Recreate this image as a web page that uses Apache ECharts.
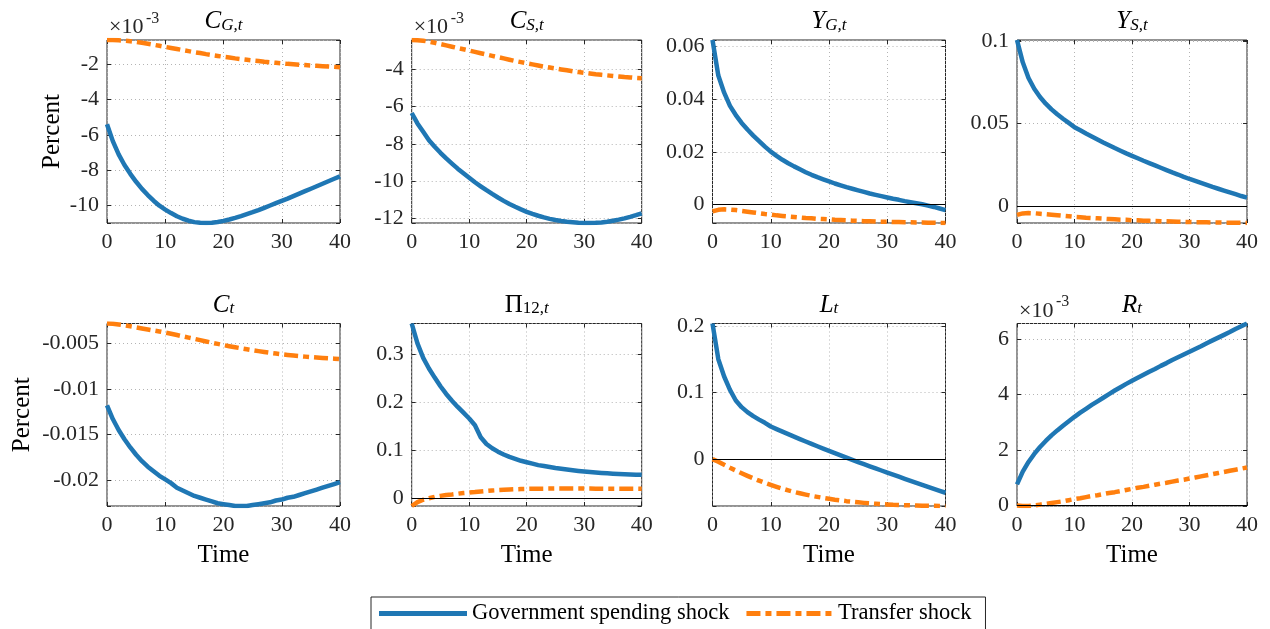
<!DOCTYPE html>
<html>
<head>
<meta charset="utf-8">
<script src="https://cdn.jsdelivr.net/npm/echarts@6/dist/echarts.min.js"></script>
<style>
  html, body { margin: 0; padding: 0; background: #ffffff; }
  #chart { width: 1270px; height: 629px; }
</style>
</head>
<body>
<div id="chart"></div>
<script>
// Impulse responses over 40 periods: government spending shock vs transfer shock.
const time = [0,1,2,3,4,5,6,7,8,9,10,11,12,13,14,15,16,17,18,19,20,21,22,23,24,25,26,27,28,29,30,31,32,33,34,35,36,37,38,39,40];
const timeTicks = [0, 10, 20, 30, 40];

// C_{G,t}, in units of 10^-3
const cgGov = [-5.40,-6.35,-7.10,-7.70,-8.20,-8.65,-9.05,-9.40,-9.72,-10.00,-10.22,-10.42,-10.60,-10.74,-10.85,-10.93,-10.97,-10.98,-10.96,-10.92,-10.86,-10.78,-10.69,-10.59,-10.48,-10.37,-10.25,-10.12,-9.99,-9.86,-9.73,-9.60,-9.46,-9.32,-9.18,-9.04,-8.90,-8.76,-8.62,-8.48,-8.34];
const cgTrans = [-0.63,-0.63,-0.65,-0.67,-0.70,-0.74,-0.79,-0.84,-0.90,-0.96,-1.02,-1.08,-1.14,-1.20,-1.26,-1.32,-1.37,-1.43,-1.48,-1.53,-1.58,-1.62,-1.67,-1.71,-1.75,-1.79,-1.82,-1.86,-1.89,-1.92,-1.95,-1.98,-2.00,-2.03,-2.05,-2.07,-2.09,-2.11,-2.13,-2.15,-2.17];
const cgTicks = [-10, -8, -6, -4, -2];

// C_{S,t}, in units of 10^-3
const csGov = [-6.34,-6.90,-7.35,-7.80,-8.15,-8.48,-8.78,-9.06,-9.33,-9.58,-9.82,-10.06,-10.28,-10.49,-10.69,-10.88,-11.06,-11.23,-11.38,-11.52,-11.65,-11.76,-11.86,-11.95,-12.03,-12.09,-12.14,-12.18,-12.21,-12.24,-12.25,-12.25,-12.24,-12.22,-12.18,-12.13,-12.07,-12.00,-11.92,-11.83,-11.73];
const csTrans = [-2.42,-2.43,-2.46,-2.51,-2.57,-2.64,-2.71,-2.78,-2.85,-2.92,-2.99,-3.06,-3.13,-3.20,-3.27,-3.34,-3.41,-3.48,-3.55,-3.61,-3.67,-3.73,-3.79,-3.85,-3.90,-3.95,-4.00,-4.05,-4.10,-4.14,-4.18,-4.22,-4.26,-4.29,-4.32,-4.35,-4.38,-4.41,-4.43,-4.46,-4.48];
const csTicks = [-12, -10, -8, -6, -4];

// Y_{G,t}
const ygGov = [0.0625,0.0490,0.0425,0.0375,0.0340,0.0310,0.0285,0.0262,0.0241,0.0220,0.0201,0.0185,0.0170,0.0157,0.0145,0.0134,0.0123,0.0113,0.0104,0.0096,0.0088,0.0080,0.0073,0.0066,0.0060,0.0054,0.0048,0.0042,0.0037,0.0032,0.0027,0.0022,0.0018,0.0013,0.0009,0.0005,0.0001,-0.0004,-0.0009,-0.0015,-0.0021];
const ygTrans = [-0.0026,-0.0020,-0.0018,-0.0019,-0.0021,-0.0024,-0.0027,-0.0030,-0.0033,-0.0036,-0.0038,-0.0041,-0.0043,-0.0045,-0.0047,-0.0049,-0.0051,-0.0052,-0.0054,-0.0055,-0.0056,-0.0058,-0.0059,-0.0060,-0.0061,-0.0062,-0.0063,-0.0063,-0.0064,-0.0065,-0.0065,-0.0066,-0.0066,-0.0067,-0.0067,-0.0068,-0.0068,-0.0069,-0.0069,-0.0070,-0.0070];
const ygTicks = [0, 0.02, 0.04, 0.06];

// Y_{S,t}
const ysGov = [0.1005,0.0870,0.0775,0.0710,0.0660,0.0620,0.0586,0.0556,0.0529,0.0504,0.0478,0.0459,0.0440,0.0422,0.0404,0.0386,0.0369,0.0352,0.0336,0.0320,0.0305,0.0290,0.0275,0.0261,0.0247,0.0233,0.0219,0.0205,0.0192,0.0178,0.0165,0.0153,0.0141,0.0129,0.0117,0.0106,0.0095,0.0084,0.0073,0.0062,0.0052];
const ysTrans = [-0.0052,-0.0043,-0.0041,-0.0042,-0.0045,-0.0048,-0.0051,-0.0054,-0.0057,-0.0060,-0.0064,-0.0066,-0.0069,-0.0071,-0.0073,-0.0075,-0.0077,-0.0079,-0.0081,-0.0082,-0.0084,-0.0085,-0.0087,-0.0088,-0.0089,-0.0090,-0.0091,-0.0092,-0.0093,-0.0094,-0.0095,-0.0096,-0.0096,-0.0097,-0.0098,-0.0098,-0.0099,-0.0099,-0.0100,-0.0100,-0.0101];
const ysTicks = [0, 0.05, 0.1];

// C_t
const cGov = [-0.0118,-0.0133,-0.0145,-0.0155,-0.0164,-0.0172,-0.0179,-0.0185,-0.0190,-0.0195,-0.0199,-0.0203,-0.0208,-0.0211,-0.0214,-0.0217,-0.0219,-0.0221,-0.0223,-0.0225,-0.0226,-0.0227,-0.0228,-0.0228,-0.0228,-0.0227,-0.0226,-0.0225,-0.0224,-0.0222,-0.0221,-0.0219,-0.0218,-0.0216,-0.0214,-0.0212,-0.0210,-0.0208,-0.0206,-0.0204,-0.0202];
const cTrans = [-0.00286,-0.00288,-0.00296,-0.00306,-0.00317,-0.00328,-0.00340,-0.00351,-0.00362,-0.00373,-0.00385,-0.00398,-0.00412,-0.00426,-0.00440,-0.00454,-0.00468,-0.00482,-0.00496,-0.00509,-0.00522,-0.00534,-0.00546,-0.00557,-0.00568,-0.00578,-0.00588,-0.00597,-0.00606,-0.00614,-0.00622,-0.00629,-0.00636,-0.00642,-0.00648,-0.00653,-0.00658,-0.00662,-0.00666,-0.00670,-0.00674];
const cTicks = [-0.02, -0.015, -0.01, -0.005];

// Pi_{12,t}
const piGov = [0.3635,0.322,0.292,0.270,0.251,0.233,0.217,0.203,0.190,0.178,0.166,0.152,0.127,0.113,0.104,0.097,0.091,0.086,0.082,0.078,0.075,0.072,0.069,0.067,0.065,0.063,0.0613,0.0597,0.0582,0.0568,0.0556,0.0545,0.0535,0.0527,0.0520,0.0513,0.0507,0.0502,0.0497,0.0492,0.0488];
const piTrans = [-0.016,-0.008,-0.003,0.000,0.003,0.005,0.007,0.008,0.0095,0.011,0.012,0.013,0.0143,0.0153,0.0162,0.0170,0.0177,0.0183,0.0188,0.0192,0.0195,0.0198,0.0200,0.0201,0.0202,0.0203,0.0203,0.0203,0.0203,0.0203,0.0202,0.0202,0.0201,0.0201,0.0200,0.0200,0.0199,0.0199,0.0198,0.0198,0.0197];
const piTicks = [0, 0.1, 0.2, 0.3];

// L_t
const lGov = [0.2036,0.150,0.124,0.104,0.088,0.078,0.0705,0.0645,0.0593,0.0545,0.0490,0.0451,0.0413,0.0375,0.0338,0.0301,0.0265,0.0229,0.0193,0.0158,0.0123,0.0089,0.0055,0.0021,-0.0012,-0.0044,-0.0076,-0.0108,-0.0140,-0.0171,-0.0202,-0.0233,-0.0264,-0.0295,-0.0326,-0.0356,-0.0386,-0.0416,-0.0446,-0.0476,-0.0505];
const lTrans = [0,-0.0040,-0.0085,-0.0130,-0.0172,-0.0213,-0.0252,-0.0289,-0.0324,-0.0357,-0.0388,-0.0417,-0.0444,-0.0469,-0.0492,-0.0513,-0.0533,-0.0551,-0.0567,-0.0582,-0.0596,-0.0609,-0.0620,-0.0631,-0.0640,-0.0649,-0.0657,-0.0664,-0.0670,-0.0676,-0.0680,-0.0685,-0.0688,-0.0692,-0.0694,-0.0697,-0.0699,-0.0700,-0.0702,-0.0703,-0.0704];
const lTicks = [0, 0.1, 0.2];

// R_t, in units of 10^-3
const rGov = [0.76,1.22,1.57,1.86,2.11,2.33,2.53,2.71,2.88,3.04,3.20,3.35,3.49,3.63,3.76,3.89,4.02,4.15,4.27,4.39,4.50,4.61,4.72,4.83,4.93,5.04,5.14,5.25,5.35,5.45,5.55,5.65,5.75,5.86,5.96,6.06,6.16,6.26,6.37,6.47,6.57];
const rTrans = [0.00,-0.02,-0.02,0.00,0.03,0.06,0.09,0.12,0.15,0.19,0.23,0.26,0.30,0.34,0.37,0.41,0.45,0.48,0.52,0.56,0.60,0.64,0.67,0.71,0.75,0.79,0.82,0.86,0.90,0.93,0.97,1.01,1.05,1.09,1.13,1.17,1.21,1.25,1.29,1.33,1.37];
const rTicks = [0, 2, 4, 6];

const seriesNames = ['Government spending shock', 'Transfer shock'];

const FONT = 'Liberation Serif';
const INK = '#262626';
const BLUE = '#1f77b4';
const ORANGE = '#ff7f0e';
const DASH_DOT = [14, 5, 6, 5];

// Panel rectangles in pixels: [left, top, width, height]
const boxes = [
  [107, 40, 233, 183], [411.7, 40, 230, 183], [712.5, 40, 233, 183], [1017, 40, 230, 183],
  [107, 323.5, 233, 182.5], [411.7, 323.5, 230, 182.5], [712.5, 323.5, 233, 182.5], [1017, 323.5, 230, 182.5]
];

const panels = [
  { title: '{i|C}{s|G,t}', gov: cgGov, trans: cgTrans, ticks: cgTicks, split: 5, exp: true },
  { title: '{i|C}{s|S,t}', gov: csGov, trans: csTrans, ticks: csTicks, split: 5, exp: true },
  { title: '{i|Y}{s|G,t}', gov: ygGov, trans: ygTrans, ticks: ygTicks, split: 3 },
  { title: '{i|Y}{s|S,t}', gov: ysGov, trans: ysTrans, ticks: ysTicks, split: 2 },
  { title: '{i|C}{s|t}', gov: cGov, trans: cTrans, ticks: cTicks, split: 4 },
  { title: '{u|\u03A0}{su|12,}{s|t}', gov: piGov, trans: piTrans, ticks: piTicks, split: 4 },
  { title: '{i|L}{s|t}', gov: lGov, trans: lTrans, ticks: lTicks, split: 2 },
  { title: '{i|R}{s|t}', gov: rGov, trans: rTrans, ticks: rTicks, split: 3, exp: true }
];

const titleRich = {
  i:  { fontFamily: FONT, fontStyle: 'italic', fontSize: 25, color: '#000', lineHeight: 28, verticalAlign: 'bottom' },
  u:  { fontFamily: FONT, fontSize: 25, color: '#000', lineHeight: 28, verticalAlign: 'bottom' },
  s:  { fontFamily: FONT, fontStyle: 'italic', fontSize: 17, color: '#000', lineHeight: 17, verticalAlign: 'bottom' },
  su: { fontFamily: FONT, fontSize: 17, color: '#000', lineHeight: 17, verticalAlign: 'bottom' }
};

function tickFormatter(ticks) {
  return function (v) {
    const hit = ticks.find(t => Math.abs(t - v) < 1e-7);
    return hit === undefined ? '' : String(hit);
  };
}

// Legend sample for the dash-dot style, built from the same dash pattern
function dashIconPath(pattern, total, h) {
  let d = '', x = 0, k = 0;
  while (x < total) {
    const len = pattern[k % pattern.length];
    if (k % 2 === 0) {
      const x2 = Math.min(x + len, total);
      d += 'M' + x + ' 0H' + x2 + 'V' + h + 'H' + x + 'Z';
    }
    x += len; k++;
  }
  return 'path://' + d;
}

const tickStyle = { inside: true, length: 4, lineStyle: { color: INK, width: 1 } };
const gridLine = { show: true, lineStyle: { color: '#b4b4b4', width: 1, type: [1, 3] } };
const labelStyle = { fontFamily: FONT, fontSize: 22, color: INK, margin: 8 };

const grid = [], xAxis = [], yAxis = [], series = [], title = [];

panels.forEach((p, i) => {
  const [l, t, w, h] = boxes[i];
  const row = i < 4 ? 0 : 1;
  const col = i % 4;
  const yMin = Math.min(...p.gov, ...p.trans);
  const yMax = Math.max(...p.gov, ...p.trans);

  grid.push({ left: l, top: t, width: w, height: h, show: true, borderColor: INK, borderWidth: 1,
              backgroundColor: 'transparent', containLabel: false });

  // bottom axis (data axis)
  xAxis.push({
    gridIndex: i, type: 'value', position: 'bottom', min: 0, max: 40, interval: 10,
    axisLine: { show: false, onZero: false },
    axisTick: tickStyle,
    axisLabel: Object.assign({ formatter: tickFormatter(timeTicks) }, labelStyle),
    splitLine: gridLine,
    name: row === 1 ? 'Time' : '', nameLocation: 'middle', nameGap: 37,
    nameTextStyle: { fontFamily: FONT, fontSize: 25, color: '#000' }
  });
  // top axis: mirrored ticks and panel title
  xAxis.push({
    gridIndex: i, type: 'value', position: 'top', min: 0, max: 40, interval: 10,
    axisLine: { show: false, onZero: false },
    axisTick: tickStyle, axisLabel: { show: false }, splitLine: { show: false },
    name: p.title, nameLocation: 'middle', nameGap: 6,
    nameTextStyle: { rich: titleRich }
  });
  // left axis (data axis)
  yAxis.push({
    gridIndex: i, type: 'value', position: 'left', min: yMin, max: yMax, splitNumber: p.split,
    axisLine: { show: false, onZero: false },
    axisTick: tickStyle,
    axisLabel: Object.assign({ formatter: tickFormatter(p.ticks) }, labelStyle),
    splitLine: gridLine,
    name: col === 0 ? 'Percent' : '', nameLocation: 'middle', nameGap: row === 0 ? 42 : 72,
    nameTextStyle: { fontFamily: FONT, fontSize: 25, color: '#000' }
  });
  // right axis: mirrored ticks
  yAxis.push({
    gridIndex: i, type: 'value', position: 'right', min: yMin, max: yMax, splitNumber: p.split,
    axisLine: { show: false, onZero: false },
    axisTick: tickStyle, axisLabel: { show: false }, splitLine: { show: false }
  });

  const crossesZero = yMin < 0 && yMax > 0;
  series.push({
    name: seriesNames[0], type: 'line', xAxisIndex: 2 * i, yAxisIndex: 2 * i,
    data: time.map((tt, k) => [tt, p.gov[k]]),
    symbol: 'none', smooth: false, clip: true, z: 3,
    lineStyle: { color: BLUE, width: 4.5, cap: 'butt', join: 'round' },
    itemStyle: { color: BLUE },
    markLine: crossesZero ? {
      silent: true, symbol: 'none', label: { show: false }, animation: false,
      lineStyle: { color: '#000', width: 1, type: 'solid' },
      data: [{ yAxis: 0 }]
    } : undefined
  });
  series.push({
    name: seriesNames[1], type: 'line', xAxisIndex: 2 * i, yAxisIndex: 2 * i,
    data: time.map((tt, k) => [tt, p.trans[k]]),
    symbol: 'none', smooth: false, clip: true, z: 4,
    lineStyle: { color: ORANGE, width: 4.5, type: DASH_DOT, cap: 'butt', join: 'round' },
    itemStyle: { color: ORANGE }
  });

  // axis multiplier, written as ×10 with a raised exponent
  if (p.exp) {
    title.push({ text: '\u00D710', left: l + 2, top: t - 23, padding: 0,
                 textStyle: { fontFamily: FONT, fontSize: 22, fontWeight: 'normal', color: INK, lineHeight: 21 } });
    title.push({ text: '-3', left: l + 39, top: t - 29.5, padding: 0,
                 textStyle: { fontFamily: FONT, fontSize: 16, fontWeight: 'normal', color: INK, lineHeight: 16 } });
  }
});

const chart = echarts.init(document.getElementById('chart'), null, { renderer: 'canvas' });
chart.setOption({
  animation: false,
  backgroundColor: '#ffffff',
  title, grid, xAxis, yAxis, series,
  legend: {
    data: [
      { name: seriesNames[0], icon: 'rect' },
      { name: seriesNames[1], icon: dashIconPath(DASH_DOT, 88, 5) }
    ],
    left: 371, top: 597, orient: 'horizontal',
    padding: [5, 14, 5, 8], itemWidth: 88, itemHeight: 5, itemGap: 17,
    borderColor: INK, borderWidth: 1, selectedMode: false,
    itemStyle: { borderWidth: 0 },
    textStyle: { fontFamily: FONT, fontSize: 22.5, color: '#000' }
  }
});
</script>
</body>
</html>
